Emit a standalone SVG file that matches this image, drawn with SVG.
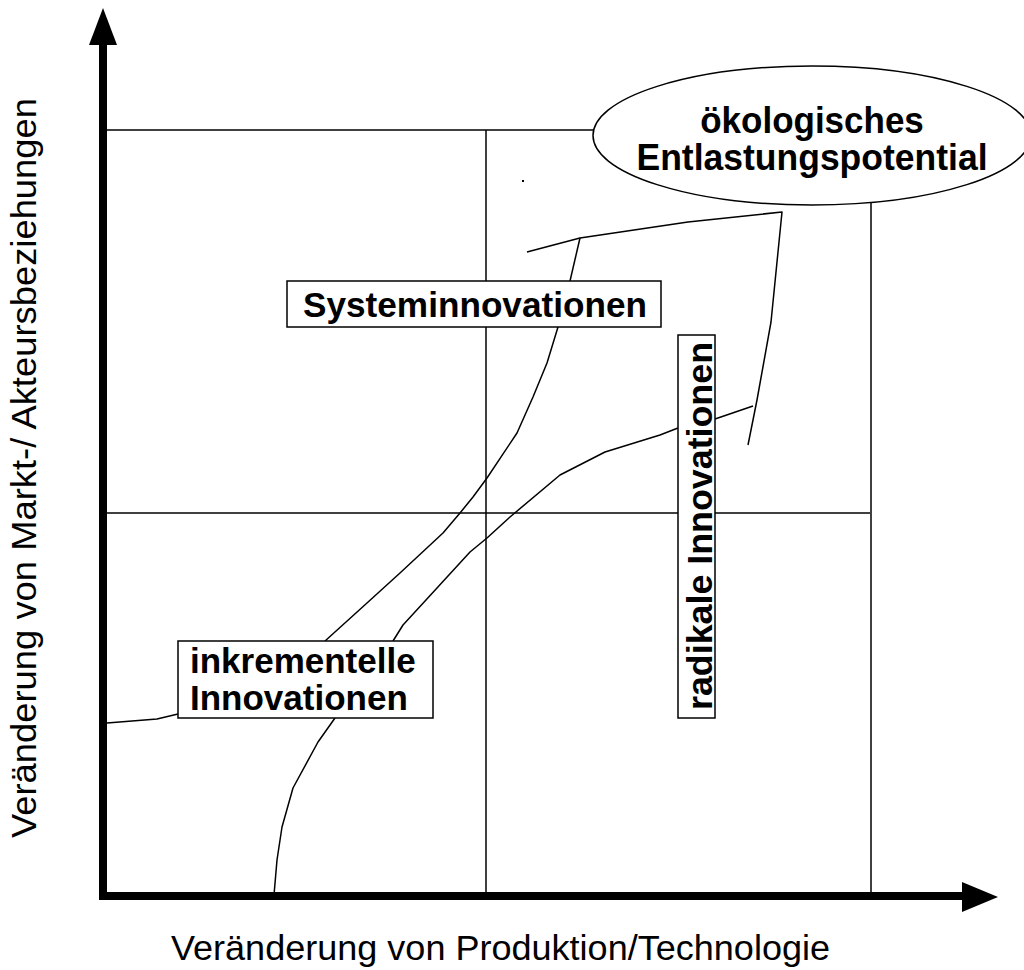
<svg xmlns="http://www.w3.org/2000/svg" width="1024" height="970" viewBox="0 0 1024 970">
  <style>
    .grid { fill: none; stroke: #000; stroke-width: 1.5; }
    .curve { fill: none; stroke: #000; stroke-width: 1.5; stroke-linejoin: round; }
    .axis { fill: none; stroke: #000; stroke-width: 8; }
    .box { fill: #fff; stroke: #000; stroke-width: 1.5; }
    .lbl { font-family: "Liberation Sans", Arial, sans-serif; font-weight: bold; font-size: 35px; fill: #000; }
    .axlbl { font-family: "Liberation Sans", Arial, sans-serif; font-size: 35px; fill: #000; }
  </style>

  <rect width="1024" height="970" fill="#fff"/>

  <!-- quadrant grid -->
  <g id="grid">
    <line class="grid" x1="103" y1="130" x2="600" y2="130"/>
    <line class="grid" x1="103" y1="513" x2="870" y2="513"/>
    <line class="grid" x1="486" y1="130" x2="486" y2="895"/>
    <line class="grid" x1="871" y1="190" x2="871" y2="895"/>
    <rect x="522" y="180" width="2" height="2" fill="#000"/>
  </g>

  <!-- axes with arrowheads -->
  <g id="axes">
    <line class="axis" x1="103" y1="899" x2="103" y2="42"/>
    <polygon points="103,8 89,45 117,45" fill="#000"/>
    <line class="axis" x1="99" y1="896" x2="966" y2="896"/>
    <polygon points="998,897 962,882 962,912" fill="#000"/>
  </g>

  <!-- curves linking the innovation types -->
  <g id="connectors">
    <polyline class="curve" points="325,641 367,603 400,573 443,533 460,513 473,497 487,478 517,433 533,397 547,363 558,327"/>
    <polyline class="curve" points="570,281 580,238"/>
    <polyline class="curve" points="527,252 580,238 688,222 782,212 771,322 757,400 748,445"/>
    <polyline class="curve" points="274,895 277,860 282,827 293,788 318,742 335,718"/>
    <polyline class="curve" points="393,641 403,625 437,588 470,552 487,538 510,517 560,475 605,452 660,435 678,428"/>
    <polyline class="curve" points="715,419 753,406"/>
    <polyline class="curve" points="107,723 157,719 178,714"/>
  </g>

  <g id="node-potential">
    <ellipse class="box" cx="812" cy="135.5" rx="219" ry="69.5"/>
    <text class="lbl" transform="translate(812,133) scale(1,1.05)" text-anchor="middle" font-size="35.5">ökologisches</text>
    <text class="lbl" transform="translate(812,170) scale(1,1.05)" x="-175.5" textLength="351" lengthAdjust="spacingAndGlyphs">Entlastungspotential</text>
  </g>

  <g id="node-system">
    <rect class="box" x="287" y="281" width="374" height="46"/>
    <text class="lbl" x="303" y="317" textLength="344" lengthAdjust="spacingAndGlyphs">Systeminnovationen</text>
  </g>

  <g id="node-incremental">
    <rect class="box" x="178" y="641" width="255" height="77"/>
    <text class="lbl" x="190" y="673">inkrementelle</text>
    <text class="lbl" x="190" y="710">Innovationen</text>
  </g>

  <g id="node-radical">
    <rect class="box" x="678" y="335" width="37" height="383"/>
    <text class="lbl" transform="translate(712,710) rotate(-90)" textLength="368" lengthAdjust="spacingAndGlyphs">radikale Innovationen</text>
  </g>

  <!-- axis titles -->
  <g id="axis-labels">
    <text class="axlbl" x="171" y="960" textLength="659" lengthAdjust="spacingAndGlyphs">Veränderung von Produktion/Technologie</text>
    <text class="axlbl" transform="translate(36,838) rotate(-90)" textLength="740" lengthAdjust="spacingAndGlyphs">Veränderung von Markt-/ Akteursbeziehungen</text>
  </g>
</svg>
